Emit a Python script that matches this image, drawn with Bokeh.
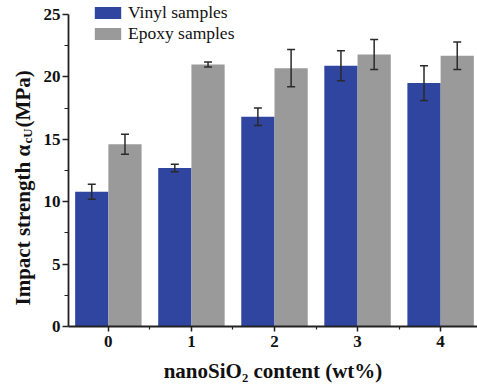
import math
from bokeh.plotting import figure
from bokeh.layouts import row
from bokeh.models import (ColumnDataSource, FixedTicker, Whisker, TeeHead, Legend,
                          LegendItem, Range1d)
from bokeh.core.properties import value
from bokeh.embed import file_html
from bokeh.resources import INLINE

# ---- data ----
contents = [0, 1, 2, 3, 4]
tick_labels = ["0", "1", "2", "3", "4"]
vinyl = [10.8, 12.7, 16.8, 20.9, 19.5]
vinyl_err = [0.6, 0.3, 0.7, 1.2, 1.4]
epoxy = [14.6, 21.0, 20.7, 21.8, 21.7]
epoxy_err = [0.8, 0.2, 1.5, 1.2, 1.1]
series_names = ["Vinyl samples", "Epoxy samples"]
x_title = "nanoSiO\u2082 content (wt%)"
y_title_parts = ["Impact strength \u03b1", "cU", "(MPa)"]

BLUE = "#2f45a0"
GRAY = "#9a9a9a"
FONT = "Liberation Serif"
TXT = "#111111"
BW = 0.4
H = 389
LEFT_W = 40

vsrc = ColumnDataSource(dict(
    x=[c - BW / 2 for c in contents], top=vinyl,
    upper=[v + e for v, e in zip(vinyl, vinyl_err)],
    lower=[v - e for v, e in zip(vinyl, vinyl_err)]))
esrc = ColumnDataSource(dict(
    x=[c + BW / 2 for c in contents], top=epoxy,
    upper=[v + e for v, e in zip(epoxy, epoxy_err)],
    lower=[v - e for v, e in zip(epoxy, epoxy_err)]))

# ---- main chart ----
p = figure(width=477 - LEFT_W, height=H, output_backend="svg", toolbar_location=None,
           x_range=Range1d(-0.48, 4.444), y_range=Range1d(0, 26.12),
           min_border_left=67 - LEFT_W, min_border_right=0, min_border_top=0,
           min_border_bottom=63)
p.outline_line_color = None
p.xgrid.visible = False
p.ygrid.visible = False

r1 = p.vbar(x="x", top="top", width=BW, source=vsrc, fill_color=BLUE, line_color=None)
r2 = p.vbar(x="x", top="top", width=BW, source=esrc, fill_color=GRAY, line_color=None)

for src in (vsrc, esrc):
    w = Whisker(base="x", upper="upper", lower="lower", source=src, level="overlay",
                line_color="#2a2a2a", line_width=1.5,
                upper_head=TeeHead(size=8, line_color="#2a2a2a", line_width=1.5),
                lower_head=TeeHead(size=8, line_color="#2a2a2a", line_width=1.5))
    p.add_layout(w)

for ax in (p.xaxis[0], p.yaxis[0]):
    ax.axis_line_width = 1.8
    ax.axis_line_color = "#222222"
    ax.major_tick_line_color = "#222222"
    ax.minor_tick_line_color = "#222222"
    ax.major_tick_line_width = 1.5
    ax.minor_tick_line_width = 1.2
    ax.major_label_text_font = FONT
    ax.major_label_text_font_style = "bold"
    ax.major_label_text_font_size = "17px"
    ax.major_label_text_color = TXT
    ax.major_tick_in = 0
    ax.minor_tick_in = 0

p.xaxis.ticker = FixedTicker(ticks=contents, minor_ticks=[c + 0.5 for c in contents[:-1]])
p.xaxis.major_label_overrides = {c: t for c, t in zip(contents, tick_labels)}
p.xaxis.major_tick_out = 5
p.xaxis.minor_tick_out = 3
p.xaxis.major_label_standoff = 4
p.xaxis.axis_label = x_title
p.xaxis.axis_label_text_font = FONT
p.xaxis.axis_label_text_font_style = "bold"
p.xaxis.axis_label_text_font_size = "21px"
p.xaxis.axis_label_text_color = TXT
p.xaxis.axis_label_standoff = 9

p.yaxis.ticker = FixedTicker(ticks=[0, 5, 10, 15, 20, 25],
                             minor_ticks=[2.5, 7.5, 12.5, 17.5, 22.5])
p.yaxis.bounds = (0, 25)
p.yaxis.major_tick_out = 6
p.yaxis.minor_tick_out = 4
p.yaxis.major_label_standoff = 2

legend = Legend(items=[LegendItem(label=series_names[0], renderers=[r1]),
                       LegendItem(label=series_names[1], renderers=[r2])],
                location=(23, 282), padding=0, margin=0, spacing=-5,
                glyph_width=33, glyph_height=15, label_standoff=4,
                label_text_font=FONT, label_text_font_size="17.5px",
                label_text_color=TXT,
                border_line_color=None, background_fill_alpha=0)
p.add_layout(legend)

# ---- y-axis title strip (text with subscript); shares the value axis ----
t = figure(width=LEFT_W, height=H, output_backend="svg", toolbar_location=None,
           x_range=Range1d(0, LEFT_W), y_range=p.y_range,
           x_axis_location=None, y_axis_location=None, min_border=0)
t.outline_line_color = None
t.xgrid.visible = False
t.ygrid.visible = False
common = dict(angle=math.pi / 2, text_align="left", text_baseline="alphabetic",
              text_font=value(FONT), text_font_style="bold", text_color=TXT)
# x: strip pixels from left; y: along the value axis
t.text(x=[22], y=[1.68], text=[y_title_parts[0]], text_font_size="21px", **common)
t.text(x=[27], y=[14.66], text=[y_title_parts[1]], text_font_size="13px", **common)
t.text(x=[22], y=[15.95], text=[y_title_parts[2]], text_font_size="21px", **common)

layout = row(t, p)
open("out.html", "w").write(file_html(layout, INLINE))
